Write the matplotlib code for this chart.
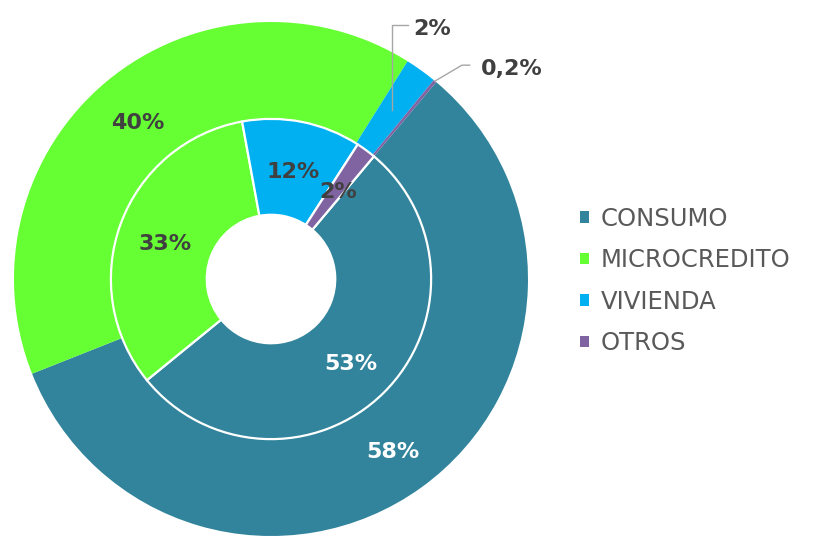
import matplotlib
matplotlib.use('Agg')
import matplotlib.pyplot as plt
import matplotlib.transforms as mtransforms
import numpy as np

categories = ['CONSUMO', 'MICROCREDITO', 'VIVIENDA', 'OTROS']
outer_values = [58, 40, 2, 0.2]
inner_values = [53, 33, 12, 2]
outer_labels = ['58%', '40%', '2%', '0,2%']
inner_labels = ['53%', '33%', '12%', '2%']

colors = ['#31849B', '#66FF33', '#00B0F0', '#8064A2']
label_colors = ['white', '#404040', '#404040', '#404040']
DARK = '#404040'
GRAY = '#595959'
LEADER = '#A6A6A6'

W, H = 815, 540
fig = plt.figure(figsize=(W / 100, H / 100), dpi=100)
cx, cy, R = 271, 279, 257
ax = fig.add_axes([(cx - R) / W, (H - cy - R) / H, 2 * R / W, 2 * R / H])

r_in = 0.623
hole = 0.25
wedges_out, _ = ax.pie(outer_values, radius=1.0, colors=colors, startangle=50,
                       counterclock=False,
                       wedgeprops=dict(width=1.0 - r_in, linewidth=0))
wedges_in, _ = ax.pie(inner_values, radius=r_in, colors=colors, startangle=50,
                      counterclock=False,
                      wedgeprops=dict(width=r_in - hole, edgecolor='white', linewidth=1.6))

ax.set_xlim(-1, 1)
ax.set_ylim(-1, 1)
ax.set_aspect('equal')
ax.axis('off')

# shift text down slightly so glyphs are visually centred
tr = mtransforms.offset_copy(ax.transData, fig=fig, x=0, y=-4, units='dots')


def mid_point(w, r):
    a = np.deg2rad((w.theta1 + w.theta2) / 2)
    return r * np.cos(a), r * np.sin(a)


fs = 16
# inner ring labels
for w, lab, c in zip(wedges_in, inner_labels, label_colors):
    x, y = mid_point(w, 0.44)
    ax.text(x, y, lab, ha='center', va='center', fontsize=fs, fontweight='bold',
            color=c, transform=tr)

# outer big labels
for w, lab, c in zip(wedges_out[:2], outer_labels[:2], label_colors[:2]):
    x, y = mid_point(w, 0.81)
    ax.text(x, y, lab, ha='center', va='center', fontsize=fs, fontweight='bold',
            color=c, transform=tr)

# VIVIENDA outer label with leader
px, py = mid_point(wedges_out[2], 0.81)
yt = 0.99
ax.plot([px, px, px + 0.06], [py, yt, yt], color=LEADER, lw=1, clip_on=False)
ax.text(px + 0.08, yt, outer_labels[2], ha='left', va='center', fontsize=fs,
        fontweight='bold', color=DARK, clip_on=False, transform=tr)

# OTROS outer label with leader
qx, qy = mid_point(wedges_out[3], 1.0)
kx, ky = qx + 0.105, qy + 0.062
ax.plot([qx, kx, kx + 0.03], [qy, ky, ky], color=LEADER, lw=1, clip_on=False)
ax.text(kx + 0.075, ky, outer_labels[3], ha='left', va='center', fontsize=fs,
        fontweight='bold', color=DARK, clip_on=False, transform=tr)

leg = fig.legend(wedges_out, categories, loc='center left',
                 bbox_to_anchor=(580 / W, 1 - 281 / H), frameon=False,
                 fontsize=17.5, handlelength=0.36, handleheight=0.36,
                 handletextpad=0.5, labelspacing=0.72, borderpad=0,
                 borderaxespad=0)
for t in leg.get_texts():
    t.set_color(GRAY)

fig.savefig('out.png', dpi=100)
